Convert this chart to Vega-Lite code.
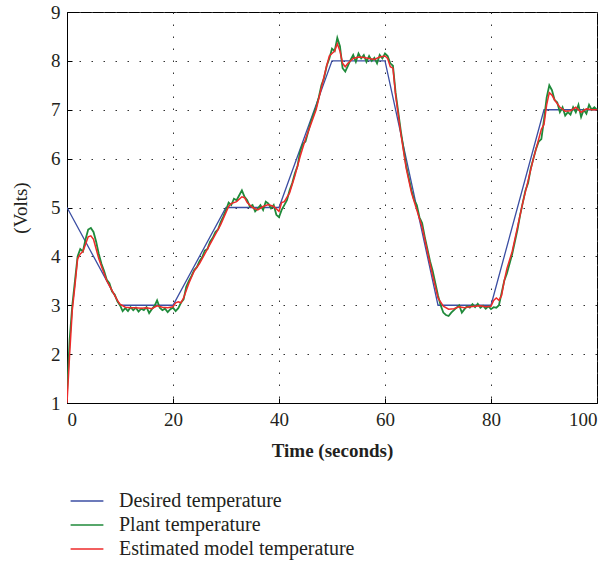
{
  "$schema": "https://vega.github.io/schema/vega-lite/v6.json",
  "width": 530,
  "height": 391,
  "autosize": {"type": "none"},
  "padding": {"left": 67, "top": 12, "right": 15, "bottom": 170},
  "background": "white",
  "config": {
    "font": "Liberation Serif",
    "view": {"stroke": "#000000", "strokeWidth": 1},
    "axis": {
      "labelFont": "Liberation Serif",
      "titleFont": "Liberation Serif",
      "labelFontSize": 19,
      "titleFontSize": 19,
      "labelColor": "#231f20",
      "titleColor": "#231f20",
      "domainColor": "#000000",
      "tickColor": "#000000",
      "gridColor": "#333333",
      "gridDash": [1.5, 10.5],
      "gridWidth": 1,
      "gridOpacity": 1
    }
  },
  "datasets": {
    "desired": [
      {"t": 0, "v": 5}, {"t": 10, "v": 3}, {"t": 20, "v": 3}, {"t": 30, "v": 5}, {"t": 40, "v": 5},
      {"t": 50, "v": 8}, {"t": 60, "v": 8}, {"t": 70, "v": 3}, {"t": 80, "v": 3}, {"t": 90, "v": 7}, {"t": 100, "v": 7}
    ],
    "plant": [
      {"t":0,"v":1.2},{"t":0.5,"v":2.3},{"t":1,"v":3.0},{"t":1.5,"v":3.5},{"t":2,"v":4.0},{"t":2.5,"v":4.15},{"t":3,"v":4.1},{"t":3.5,"v":4.35},{"t":4,"v":4.55},{"t":4.5,"v":4.58},
      {"t":5,"v":4.5},{"t":5.5,"v":4.3},{"t":6,"v":4.05},{"t":6.5,"v":3.85},{"t":7,"v":3.7},{"t":7.5,"v":3.52},{"t":8,"v":3.45},{"t":8.5,"v":3.28},{"t":9,"v":3.22},{"t":9.5,"v":3.08},
      {"t":10,"v":3.0},{"t":10.5,"v":2.88},{"t":11,"v":2.94},{"t":11.5,"v":2.88},{"t":12,"v":2.96},{"t":12.5,"v":2.9},{"t":13,"v":2.95},{"t":13.5,"v":2.87},{"t":14,"v":2.93},{"t":14.5,"v":2.9},
      {"t":15,"v":2.96},{"t":15.5,"v":2.84},{"t":16,"v":2.92},{"t":16.5,"v":2.98},{"t":17,"v":3.1},{"t":17.5,"v":2.95},{"t":18,"v":2.9},{"t":18.5,"v":2.93},{"t":19,"v":2.86},{"t":19.5,"v":2.92},
      {"t":20,"v":2.95},{"t":20.5,"v":2.88},{"t":21,"v":2.94},{"t":21.5,"v":3.05},{"t":22,"v":3.12},{"t":22.5,"v":3.38},{"t":23,"v":3.5},{"t":23.5,"v":3.6},{"t":24,"v":3.72},{"t":24.5,"v":3.78},
      {"t":25,"v":3.9},{"t":25.5,"v":3.98},{"t":26,"v":4.12},{"t":26.5,"v":4.15},{"t":27,"v":4.3},{"t":27.5,"v":4.38},{"t":28,"v":4.5},{"t":28.5,"v":4.55},{"t":29,"v":4.7},{"t":29.5,"v":4.82},
      {"t":30,"v":4.95},{"t":30.5,"v":5.1},{"t":31,"v":5.05},{"t":31.5,"v":5.18},{"t":32,"v":5.15},{"t":32.5,"v":5.25},{"t":33,"v":5.35},{"t":33.5,"v":5.22},{"t":34,"v":5.15},{"t":34.5,"v":5.02},
      {"t":35,"v":5.05},{"t":35.5,"v":4.92},{"t":36,"v":4.98},{"t":36.5,"v":5.05},{"t":37,"v":4.95},{"t":37.5,"v":5.12},{"t":38,"v":5.08},{"t":38.5,"v":4.98},{"t":39,"v":5.05},{"t":39.5,"v":4.85},
      {"t":40,"v":4.8},{"t":40.5,"v":4.95},{"t":41,"v":5.05},{"t":41.5,"v":5.15},{"t":42,"v":5.35},{"t":42.5,"v":5.5},{"t":43,"v":5.7},{"t":43.5,"v":5.85},{"t":44,"v":6.15},{"t":44.5,"v":6.3},
      {"t":45,"v":6.35},{"t":45.5,"v":6.55},{"t":46,"v":6.75},{"t":46.5,"v":6.9},{"t":47,"v":7.05},{"t":47.5,"v":7.25},{"t":48,"v":7.5},{"t":48.5,"v":7.65},{"t":49,"v":7.9},{"t":49.5,"v":8.05},
      {"t":50,"v":8.25},{"t":50.5,"v":8.2},{"t":51,"v":8.47},{"t":51.5,"v":8.3},{"t":52,"v":7.85},{"t":52.5,"v":7.78},{"t":53,"v":7.9},{"t":53.5,"v":8.02},{"t":54,"v":8.12},{"t":54.5,"v":7.98},
      {"t":55,"v":8.15},{"t":55.5,"v":8.05},{"t":56,"v":8.12},{"t":56.5,"v":7.98},{"t":57,"v":8.1},{"t":57.5,"v":8.0},{"t":58,"v":8.06},{"t":58.5,"v":7.95},{"t":59,"v":8.12},{"t":59.5,"v":8.05},
      {"t":60,"v":8.15},{"t":60.5,"v":8.1},{"t":61,"v":7.95},{"t":61.5,"v":7.9},{"t":62,"v":7.35},{"t":62.5,"v":6.95},{"t":63,"v":6.55},{"t":63.5,"v":6.2},{"t":64,"v":5.85},{"t":64.5,"v":5.6},
      {"t":65,"v":5.35},{"t":65.5,"v":5.15},{"t":66,"v":5.05},{"t":66.5,"v":4.8},{"t":67,"v":4.68},{"t":67.5,"v":4.4},{"t":68,"v":4.15},{"t":68.5,"v":3.9},{"t":69,"v":3.7},{"t":69.5,"v":3.45},
      {"t":70,"v":3.2},{"t":70.5,"v":3.0},{"t":71,"v":2.85},{"t":71.5,"v":2.8},{"t":72,"v":2.78},{"t":72.5,"v":2.85},{"t":73,"v":2.9},{"t":73.5,"v":2.95},{"t":74,"v":3.0},{"t":74.5,"v":2.85},
      {"t":75,"v":2.92},{"t":75.5,"v":2.98},{"t":76,"v":2.95},{"t":76.5,"v":3.02},{"t":77,"v":2.96},{"t":77.5,"v":3.03},{"t":78,"v":2.95},{"t":78.5,"v":2.99},{"t":79,"v":2.93},{"t":79.5,"v":2.98},
      {"t":80,"v":2.92},{"t":80.5,"v":2.96},{"t":81,"v":2.95},{"t":81.5,"v":3.0},{"t":82,"v":3.25},{"t":82.5,"v":3.5},{"t":83,"v":3.65},{"t":83.5,"v":3.85},{"t":84,"v":4.05},{"t":84.5,"v":4.3},
      {"t":85,"v":4.55},{"t":85.5,"v":4.85},{"t":86,"v":5.1},{"t":86.5,"v":5.35},{"t":87,"v":5.5},{"t":87.5,"v":5.8},{"t":88,"v":6.0},{"t":88.5,"v":6.2},{"t":89,"v":6.35},{"t":89.5,"v":6.4},
      {"t":90,"v":6.8},{"t":90.5,"v":7.25},{"t":91,"v":7.5},{"t":91.5,"v":7.4},{"t":92,"v":7.2},{"t":92.5,"v":7.15},{"t":93,"v":6.95},{"t":93.5,"v":7.05},{"t":94,"v":6.88},{"t":94.5,"v":6.95},
      {"t":95,"v":6.9},{"t":95.5,"v":7.05},{"t":96,"v":6.95},{"t":96.5,"v":7.1},{"t":97,"v":6.85},{"t":97.5,"v":7.0},{"t":98,"v":6.92},{"t":98.5,"v":7.1},{"t":99,"v":7.0},{"t":99.5,"v":7.05},
      {"t":100,"v":7.0}
    ],
    "estimated": [
      {"t":0,"v":1.0},{"t":0.5,"v":2.0},{"t":1,"v":2.9},{"t":1.5,"v":3.4},{"t":2,"v":3.95},{"t":2.5,"v":4.05},{"t":3,"v":4.1},{"t":3.5,"v":4.25},{"t":4,"v":4.4},{"t":4.5,"v":4.42},
      {"t":5,"v":4.35},{"t":5.5,"v":4.15},{"t":6,"v":3.95},{"t":6.5,"v":3.8},{"t":7,"v":3.65},{"t":7.5,"v":3.5},{"t":8,"v":3.4},{"t":8.5,"v":3.3},{"t":9,"v":3.2},{"t":9.5,"v":3.1},
      {"t":10,"v":3.02},{"t":11,"v":2.96},{"t":12,"v":2.95},{"t":13,"v":2.95},{"t":14,"v":2.94},{"t":15,"v":2.95},{"t":16,"v":2.93},{"t":17,"v":2.99},{"t":18,"v":2.96},{"t":19,"v":2.95},
      {"t":20,"v":2.97},{"t":20.5,"v":3.05},{"t":21,"v":3.07},{"t":21.5,"v":3.05},{"t":22,"v":3.15},{"t":22.5,"v":3.3},{"t":23,"v":3.45},{"t":24,"v":3.7},{"t":25,"v":3.85},{"t":26,"v":4.05},
      {"t":27,"v":4.25},{"t":28,"v":4.45},{"t":29,"v":4.65},{"t":30,"v":4.9},{"t":30.5,"v":5.02},{"t":31,"v":5.08},{"t":32,"v":5.12},{"t":33,"v":5.22},{"t":33.5,"v":5.2},{"t":34,"v":5.1},
      {"t":35,"v":5.0},{"t":36,"v":4.95},{"t":37,"v":5.02},{"t":38,"v":5.06},{"t":39,"v":5.02},{"t":40,"v":4.92},{"t":40.5,"v":5.1},{"t":41,"v":5.12},{"t":42,"v":5.3},{"t":43,"v":5.65},
      {"t":44,"v":6.05},{"t":45,"v":6.4},{"t":46,"v":6.7},{"t":47,"v":7.0},{"t":48,"v":7.45},{"t":49,"v":7.9},{"t":49.5,"v":8.1},{"t":50,"v":8.15},{"t":50.5,"v":8.2},{"t":51,"v":8.35},
      {"t":51.5,"v":8.2},{"t":52,"v":7.95},{"t":52.5,"v":7.88},{"t":53,"v":7.95},{"t":54,"v":8.05},{"t":55,"v":8.08},{"t":56,"v":8.07},{"t":57,"v":8.05},{"t":58,"v":8.03},{"t":59,"v":8.08},
      {"t":60,"v":8.1},{"t":60.5,"v":8.05},{"t":61,"v":7.88},{"t":61.5,"v":7.85},{"t":62,"v":7.3},{"t":62.5,"v":6.9},{"t":63,"v":6.5},{"t":64,"v":5.8},{"t":65,"v":5.3},{"t":66,"v":4.95},
      {"t":67,"v":4.6},{"t":68,"v":4.1},{"t":69,"v":3.6},{"t":70,"v":3.15},{"t":71,"v":2.98},{"t":72,"v":2.92},{"t":73,"v":2.93},{"t":74,"v":2.97},{"t":75,"v":2.95},{"t":76,"v":2.97},
      {"t":77,"v":2.98},{"t":78,"v":2.99},{"t":79,"v":2.97},{"t":80,"v":2.98},{"t":80.5,"v":3.1},{"t":81,"v":3.15},{"t":81.5,"v":3.1},{"t":82,"v":3.2},{"t":82.5,"v":3.5},{"t":83,"v":3.75},
      {"t":84,"v":4.1},{"t":85,"v":4.6},{"t":86,"v":5.1},{"t":87,"v":5.55},{"t":88,"v":6.0},{"t":89,"v":6.4},{"t":89.5,"v":6.6},{"t":90,"v":6.7},{"t":90.5,"v":7.1},{"t":91,"v":7.35},
      {"t":91.5,"v":7.3},{"t":92,"v":7.2},{"t":93,"v":7.05},{"t":94,"v":6.97},{"t":95,"v":6.98},{"t":96,"v":7.05},{"t":97,"v":6.95},{"t":98,"v":7.02},{"t":99,"v":7.0},{"t":100,"v":7.0}
    ]
  },
  "encoding": {
    "x": {
      "field": "t", "type": "quantitative",
      "scale": {"domain": [0, 100], "nice": false, "zero": false},
      "axis": {"title": "Time (seconds)", "titleFontWeight": "bold", "values": [0, 20, 40, 60, 80, 100], "tickSize": -5, "labelPadding": 12, "titlePadding": 12, "grid": true}
    },
    "y": {
      "field": "v", "type": "quantitative",
      "scale": {"domain": [1, 9], "nice": false, "zero": false},
      "axis": {"title": "(Volts)", "titleFontWeight": "normal", "values": [1, 2, 3, 4, 5, 6, 7, 8, 9], "tickSize": -5, "labelPadding": 12, "titlePadding": 20, "grid": true}
    },
    "color": {
      "datum": "Desired temperature",
      "type": "nominal",
      "scale": {
        "domain": ["Desired temperature", "Plant temperature", "Estimated model temperature"],
        "range": ["#3b4ea3", "#1f8a3a", "#ee2a2a"]
      },
      "legend": {
        "title": null,
        "orient": "none",
        "legendX": 9,
        "legendY": 478,
        "symbolType": "M-1.6,0H1.6",
        "symbolSize": 420,
        "symbolStrokeWidth": 1.5,
        "labelFont": "Liberation Serif",
        "labelFontSize": 20,
        "labelLimit": 400,
        "labelColor": "#231f20",
        "labelOffset": 21,
        "rowPadding": 3
      }
    }
  },
  "layer": [
    {
      "data": {"name": "desired"},
      "mark": {"type": "line", "strokeWidth": 1.3, "clip": true},
      "encoding": {"color": {"datum": "Desired temperature", "type": "nominal"}}
    },
    {
      "data": {"name": "plant"},
      "mark": {"type": "line", "strokeWidth": 1.8, "clip": true},
      "encoding": {"color": {"datum": "Plant temperature", "type": "nominal"}}
    },
    {
      "data": {"name": "estimated"},
      "mark": {"type": "line", "strokeWidth": 1.5, "clip": true},
      "encoding": {"color": {"datum": "Estimated model temperature", "type": "nominal"}}
    }
  ]
}
